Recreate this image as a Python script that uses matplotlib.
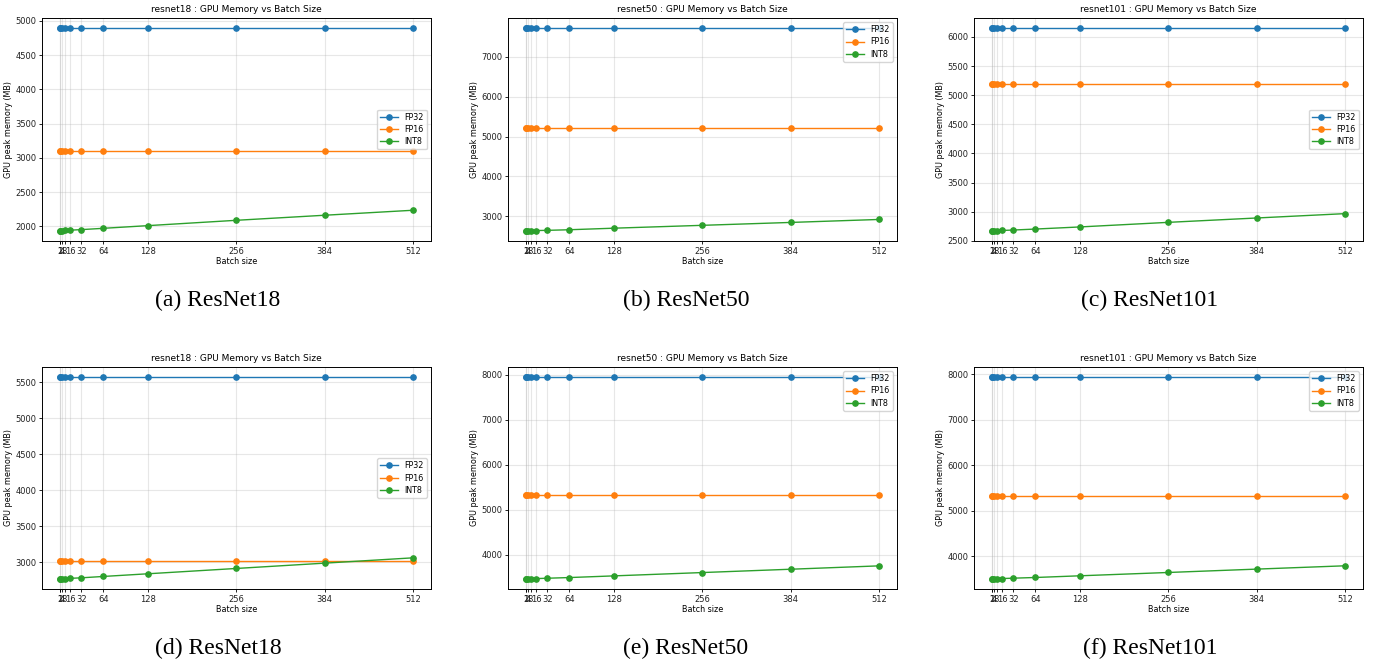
import matplotlib
matplotlib.use("Agg")
import matplotlib.pyplot as plt

# batch sizes used in every run
batch_sizes = [1, 2, 4, 8, 16, 32, 64, 128, 256, 384, 512]

models = ["resnet18", "resnet50", "resnet101", "resnet18", "resnet50", "resnet101"]
captions = ["(a) ResNet18", "(b) ResNet50", "(c) ResNet101",
            "(d) ResNet18", "(e) ResNet50", "(f) ResNet101"]

# peak memory (MB)
fp32 = [
    [4892] * 11,
    [7725] * 11,
    [6150] * 11,
    [5575] * 11,
    [7948] * 11,
    [7934] * 11,
]
fp16 = [
    [3102] * 11,
    [5205] * 11,
    [5195] * 11,
    [3023] * 11,
    [5333] * 11,
    [5324] * 11,
]
int8 = [
    [1934, 1935, 1937, 1940, 1944, 1952, 1971, 2010, 2088, 2162, 2235],
    [2628, 2629, 2631, 2633, 2636, 2641, 2656, 2695, 2767, 2840, 2915],
    [2670, 2671, 2672, 2674, 2677, 2684, 2701, 2737, 2816, 2891, 2966],
    [2772, 2773, 2775, 2777, 2780, 2787, 2806, 2843, 2917, 2991, 3065],
    [3466, 3467, 3468, 3470, 3473, 3481, 3496, 3533, 3607, 3681, 3756],
    [3506, 3507, 3508, 3510, 3514, 3522, 3537, 3574, 3647, 3721, 3794],
]
legend_locs = ["center right", "upper right", "center right",
               "center right", "upper right", "upper right"]

W, H = 1374, 667
fig = plt.figure(figsize=(W / 100, H / 100), dpi=100)

# axes boxes in pixels: left, top, right, bottom
boxes = [
    (42, 18, 431, 241), (508, 18, 897, 241), (974, 18, 1363, 241),
    (42, 367, 431, 589), (508, 367, 897, 589), (974, 367, 1363, 589),
]
caption_pos = [(218, 300), (686, 300), (1150, 300),
               (218, 648), (686, 648), (1150, 648)]

for i in range(6):
    l, t, r, b = boxes[i]
    ax = fig.add_axes([l / W, 1 - b / H, (r - l) / W, (b - t) / H])
    ax.plot(batch_sizes, fp32[i], marker="o", markersize=3.8, linewidth=1, label="FP32")
    ax.plot(batch_sizes, fp16[i], marker="o", markersize=3.8, linewidth=1, label="FP16")
    ax.plot(batch_sizes, int8[i], marker="o", markersize=3.8, linewidth=1, label="INT8")
    ax.set_xticks(batch_sizes)
    ax.set_xticklabels([str(x) for x in batch_sizes])
    ax.grid(True, alpha=0.3)
    ax.tick_params(labelsize=6, length=2.5, width=0.6, pad=1.5, labelcolor="#222222")
    ax.set_title(models[i] + " : GPU Memory vs Batch Size", fontsize=6.5, pad=4)
    ax.set_xlabel("Batch size", fontsize=5.8, labelpad=1)
    ax.set_ylabel("GPU peak memory (MB)", fontsize=5.8, labelpad=2)
    for s in ax.spines.values():
        s.set_linewidth(0.7)
    ax.legend(loc=legend_locs[i], fontsize=5.8, handlelength=2.2,
              borderpad=0.4, labelspacing=0.4)

    cx, cy = caption_pos[i]
    fig.text(cx / W, 1 - cy / H, captions[i], ha="center", va="center",
             fontsize=17, family="Liberation Serif")

fig.savefig("out.png", dpi=100)
